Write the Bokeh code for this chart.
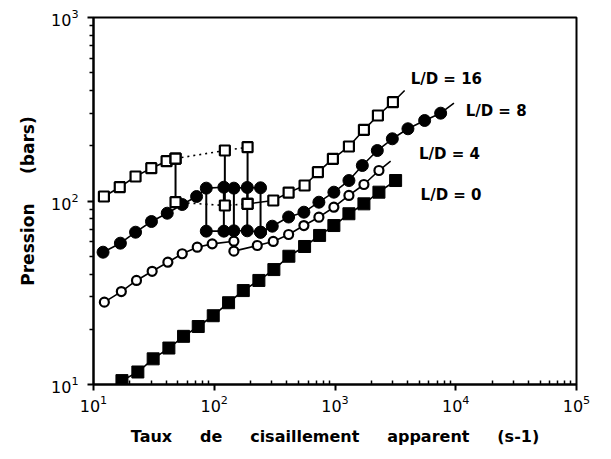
from bokeh.plotting import figure
from bokeh.models import Label, Range1d, FixedTicker
from bokeh.embed import file_html
from bokeh.resources import INLINE

# ---------------- data ----------------
# L/D = 16 (open squares)
ld16_x_low = [12.2, 16.5, 22.3, 30.1, 40.3, 47.8]
ld16_y_low = [105.8, 118.9, 136, 151, 164.8, 170.4]
ld16_spurt_x = [47.8, 122.4, 188.8]
ld16_spurt_hi = [170.4, 188.4, 196.5]
ld16_spurt_lo = [98.5, 94.5, 96.5]
ld16_x_high = [188.8, 308.3, 413, 560, 721.7, 960.7, 1304, 1736, 2267, 3018]
ld16_y_high = [96.5, 100.6, 111.1, 121.5, 143.5, 169.8, 198.2, 244.3, 292.4, 345.5]
ld16_fit_end = (3773, 400)

# L/D = 8 (filled circles)
ld8_x_low = [12.0, 16.7, 22.3, 30.2, 40.8, 54.3, 71.4]
ld8_y_low = [52.6, 58.9, 67.6, 77.3, 85.8, 95.7, 105.8]
ld8_spurt_x = [85.9, 120.1, 145.4, 187.7, 241.8]
ld8_spurt_hi = [117.5, 118.9, 117.5, 118.5, 118]
ld8_spurt_lo = [68.5, 68.5, 68.8, 68.8, 67.6]
ld8_x_high = [241.8, 302.4, 413, 552.7, 735.6, 979, 1304, 1684, 2241, 2984, 4018, 5525, 7497]
ld8_y_high = [67.6, 72.9, 81.8, 86.9, 98.5, 111.7, 129.3, 156.1, 188.4, 218.3, 247.5, 274.6, 301]
ld8_fit_end = (9661, 341.2)

# L/D = 4 (open circles)
ld4_x_low = [12.3, 17.0, 22.7, 30.6, 41.3, 54.3, 72.3, 96.2, 145.4]
ld4_y_low = [28.1, 32.1, 36.9, 41.4, 46.4, 51.6, 56, 58.4, 60.4]
ld4_x_high = [145.4, 227.2, 308, 413, 552.7, 735.6, 979, 1304, 1736, 2311]
ld4_y_high = [53.3, 57.2, 60.2, 65.7, 73.5, 81.6, 92.5, 107.2, 123, 146.6]
ld4_fit_end = (2889, 164.8)

# L/D = 0 (filled squares)
ld0_x = [17.2, 23.3, 31.2, 42.1, 55.7, 73.7, 98.1, 131.4, 174, 234.2, 311.8,
         415, 560, 745.5, 979, 1304, 1736, 2311, 3177]
ld0_y = [10.5, 11.7, 13.8, 15.8, 18.3, 20.7, 23.7, 27.9, 32.5, 36.9, 42.3,
         50, 56.5, 64.9, 73.5, 85.2, 96.5, 111.7, 129.3]

series_labels = ["L/D = 16", "L/D = 8", "L/D = 4", "L/D = 0"]
label_x = [4231, 12080, 4955, 5117]
label_y = [463, 311, 180.8, 107.2]

x_major = [10, 100, 1000, 10000, 100000]
y_major = [10, 100, 1000]
x_minor = [m * d for d in x_major[:-1] for m in range(2, 10)]
y_minor = [m * d for d in y_major[:-1] for m in range(2, 10)]

x_title = "Taux\u00a0\u00a0\u00a0\u00a0 de\u00a0\u00a0\u00a0\u00a0 cisaillement\u00a0\u00a0\u00a0\u00a0 apparent\u00a0\u00a0\u00a0\u00a0 (s-1)"
y_title = "Pression\u00a0\u00a0\u00a0\u00a0 (bars)"

# ---------------- figure ----------------
p = figure(frame_width=483, frame_height=367, x_axis_type="log", y_axis_type="log",
           x_range=Range1d(10, 1e5), y_range=Range1d(10, 1000),
           output_backend="svg", toolbar_location=None,
           min_border_left=93, min_border_right=18, min_border_top=17,
           min_border_bottom=60)
p.grid.visible = False
p.outline_line_color = "black"
p.outline_line_width = 2
p.background_fill_color = "white"
p.border_fill_color = "white"

p.xaxis.ticker = FixedTicker(ticks=x_major, minor_ticks=x_minor)
p.yaxis.ticker = FixedTicker(ticks=y_major, minor_ticks=y_minor)

for ax in (p.xaxis, p.yaxis):
    ax.axis_line_color = "black"
    ax.axis_line_width = 2
    ax.major_tick_line_color = "black"
    ax.minor_tick_line_color = "black"
    ax.major_tick_line_width = 2
    ax.minor_tick_line_width = 1.5
    ax.major_label_text_font = "DejaVu Sans"
    ax.major_label_text_font_size = "16px"
    ax.major_label_text_color = "black"
    ax.axis_label_text_font = "DejaVu Sans"
    ax.axis_label_text_font_style = "bold"
    ax.axis_label_text_color = "black"

p.xaxis.major_tick_out = 6
p.xaxis.major_tick_in = 0
p.xaxis.minor_tick_out = 0
p.xaxis.minor_tick_in = 4
p.xaxis.major_label_standoff = 4
p.xaxis.axis_label = x_title
p.xaxis.axis_label_text_font_size = "16px"
p.xaxis.axis_label_standoff = 12

p.yaxis.major_tick_out = 6
p.yaxis.major_tick_in = 0
p.yaxis.minor_tick_out = 4
p.yaxis.minor_tick_in = 0
p.yaxis.major_label_standoff = 9
p.yaxis.axis_label = y_title
p.yaxis.axis_label_text_font_size = "17px"
p.yaxis.axis_label_standoff = 10

LW = 1.6

# L/D = 16
p.line(ld16_x_low, ld16_y_low, line_color="black", line_width=LW)
p.line(ld16_spurt_x, ld16_spurt_hi, line_color="black", line_width=LW, line_dash="2 4")
p.line(ld16_spurt_x, ld16_spurt_lo, line_color="black", line_width=LW, line_dash="2 4")
p.segment(x0=ld16_spurt_x, y0=ld16_spurt_lo, x1=ld16_spurt_x, y1=ld16_spurt_hi,
          line_color="black", line_width=2)
p.line(ld16_x_high + [ld16_fit_end[0]], ld16_y_high + [ld16_fit_end[1]],
       line_color="black", line_width=LW)

# L/D = 8
p.line(ld8_x_low + [ld8_spurt_x[0]], ld8_y_low + [ld8_spurt_hi[0]], line_color="black", line_width=LW)
p.line(ld8_spurt_x, ld8_spurt_hi, line_color="black", line_width=LW)
p.line(ld8_spurt_x, ld8_spurt_lo, line_color="black", line_width=LW)
p.segment(x0=ld8_spurt_x, y0=ld8_spurt_lo, x1=ld8_spurt_x, y1=ld8_spurt_hi,
          line_color="black", line_width=2)
p.line(ld8_x_high + [ld8_fit_end[0]], ld8_y_high + [ld8_fit_end[1]],
       line_color="black", line_width=LW)

# L/D = 4
p.line(ld4_x_low, ld4_y_low, line_color="black", line_width=LW)
p.line([ld4_x_low[-1], ld4_x_high[0]], [ld4_y_low[-1], ld4_y_high[0]], line_color="black", line_width=LW)
p.line(ld4_x_high + [ld4_fit_end[0]], ld4_y_high + [ld4_fit_end[1]],
       line_color="black", line_width=LW)

# L/D = 0
p.line(ld0_x, ld0_y, line_color="black", line_width=LW)

# markers
p.scatter(ld0_x, ld0_y, marker="square", size=12, fill_color="black", line_color="black", line_width=1)
p.scatter(ld4_x_low + ld4_x_high, ld4_y_low + ld4_y_high, marker="circle", size=9,
          fill_color="white", line_color="black", line_width=2.2)
p.scatter(ld8_x_low + ld8_spurt_x + ld8_spurt_x + ld8_x_high,
          ld8_y_low + ld8_spurt_hi + ld8_spurt_lo + ld8_y_high,
          marker="circle", size=12, fill_color="black", line_color="black", line_width=1)
p.scatter(ld16_x_low + ld16_spurt_x + ld16_spurt_x + ld16_x_high,
          ld16_y_low + ld16_spurt_hi + ld16_spurt_lo + ld16_y_high,
          marker="square", size=10, fill_color="white", line_color="black", line_width=2.2)

for t, lx, ly in zip(series_labels, label_x, label_y):
    p.add_layout(Label(x=lx, y=ly, text=t, text_font="DejaVu Sans", text_font_style="bold",
                       text_font_size="15px", text_baseline="middle", text_align="left",
                       text_color="black"))

open("out.html", "w").write(file_html(p, INLINE))
